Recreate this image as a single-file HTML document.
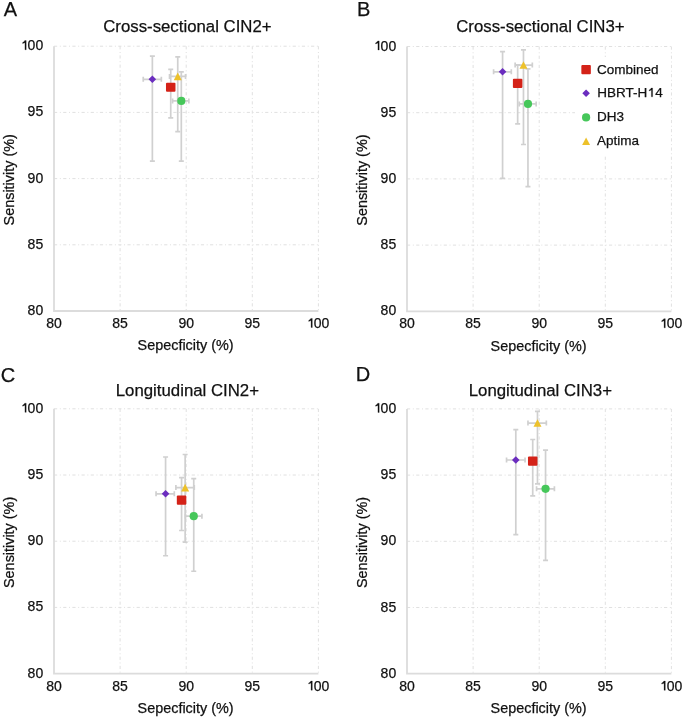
<!DOCTYPE html>
<html><head><meta charset="utf-8"><style>
html,body{margin:0;padding:0;background:#fff;width:685px;height:718px;overflow:hidden}
svg{display:block;will-change:transform;transform-origin:0 0;transform:scale(1.0)}
text{font-family:"Liberation Sans", sans-serif;fill:#111;stroke:#111;stroke-width:0.25}
.tk{font-size:14px}
.at{font-size:14.4px}
.ti{font-size:16.8px}
.pl{font-size:20px}
.lg{font-size:13.5px}
.one{fill:#111;stroke:#111;stroke-width:0.25}
.g{stroke:#e0e0e0;stroke-width:1;stroke-dasharray:3.2 2.6 1 2.38;fill:none}
.ax{stroke:#dcdcdc;stroke-width:1.8;fill:none}
.e{stroke:#d0d0d0;stroke-width:1.7;fill:none}
</style></head><body>
<svg width="685" height="718" viewBox="0 0 685 718">
<rect width="685" height="718" fill="#fff"/>
<line x1="120.10" y1="46.20" x2="120.10" y2="311.00" class="g"/>
<line x1="54.00" y1="244.80" x2="318.40" y2="244.80" class="g"/>
<line x1="186.20" y1="46.20" x2="186.20" y2="311.00" class="g"/>
<line x1="54.00" y1="178.60" x2="318.40" y2="178.60" class="g"/>
<line x1="252.30" y1="46.20" x2="252.30" y2="311.00" class="g"/>
<line x1="54.00" y1="112.40" x2="318.40" y2="112.40" class="g"/>
<line x1="318.40" y1="46.20" x2="318.40" y2="311.00" class="g"/>
<line x1="54.00" y1="46.20" x2="318.40" y2="46.20" class="g"/>
<path d="M54.00 46.20V311.00H318.40" class="ax"/>
<text x="43.20" y="315.00" class="tk" text-anchor="end">80</text>
<text x="54.00" y="328.00" class="tk" text-anchor="middle">80</text>
<text x="43.20" y="248.80" class="tk" text-anchor="end">85</text>
<text x="120.10" y="328.00" class="tk" text-anchor="middle">85</text>
<text x="43.20" y="182.60" class="tk" text-anchor="end">90</text>
<text x="186.20" y="328.00" class="tk" text-anchor="middle">90</text>
<text x="43.20" y="116.40" class="tk" text-anchor="end">95</text>
<text x="252.30" y="328.00" class="tk" text-anchor="middle">95</text>
<text x="43.20" y="50.20" class="tk" text-anchor="end">00</text>
<path d="M26.20 49.75L26.20 40.60L24.75 40.60L24.20 41.50L22.60 42.60L22.60 43.60L24.95 42.70L24.95 49.75Z" class="one"/>
<text x="329.30" y="328.00" class="tk" text-anchor="end">00</text>
<path d="M312.30 327.55L312.30 318.40L310.85 318.40L310.30 319.30L308.70 320.40L308.70 321.40L311.05 320.50L311.05 327.55Z" class="one"/>
<text x="185.60" y="350.30" class="at" text-anchor="middle">Sepecficity (%)</text>
<text transform="translate(14.20 179.80) rotate(-90)" class="at" text-anchor="middle">Sensitivity (%)</text>
<text x="187.40" y="31.70" class="ti" text-anchor="middle">Cross-sectional CIN2+</text>
<text x="3.70" y="16.20" class="pl">A</text>
<path d="M152.36 56.13V161.12M149.86 56.13h5M149.86 161.12h5" class="e"/>
<path d="M143.24 79.30H161.35M143.24 76.80v5M161.35 76.80v5" class="e"/>
<path d="M170.73 69.37V117.96M168.23 69.37h5M168.23 117.96h5" class="e"/>
<path d="M177.74 56.79V131.60M175.24 56.79h5M175.24 131.60h5" class="e"/>
<path d="M169.54 76.39H185.54M169.54 73.89v5M185.54 73.89v5" class="e"/>
<path d="M181.31 71.89V161.12M178.81 71.89h5M178.81 161.12h5" class="e"/>
<path d="M172.58 100.88H188.84M172.58 98.38v5M188.84 98.38v5" class="e"/>
<rect x="165.98" y="82.64" width="9.5" height="9.2" rx="1" fill="#d42218"/>
<path d="M152.36 75.50L156.16 79.30L152.36 83.10L148.56 79.30Z" fill="#6b2dbf"/>
<circle cx="181.31" cy="100.88" r="4.1" fill="#46c75a"/>
<path d="M177.74 72.59L181.74 80.19L173.74 80.19Z" fill="#edc12a"/>
<line x1="473.10" y1="46.50" x2="473.10" y2="311.30" class="g"/>
<line x1="407.00" y1="245.10" x2="671.40" y2="245.10" class="g"/>
<line x1="539.20" y1="46.50" x2="539.20" y2="311.30" class="g"/>
<line x1="407.00" y1="178.90" x2="671.40" y2="178.90" class="g"/>
<line x1="605.30" y1="46.50" x2="605.30" y2="311.30" class="g"/>
<line x1="407.00" y1="112.70" x2="671.40" y2="112.70" class="g"/>
<line x1="671.40" y1="46.50" x2="671.40" y2="311.30" class="g"/>
<line x1="407.00" y1="46.50" x2="671.40" y2="46.50" class="g"/>
<path d="M407.00 46.50V311.30H671.40" class="ax"/>
<text x="396.20" y="315.30" class="tk" text-anchor="end">80</text>
<text x="407.00" y="328.30" class="tk" text-anchor="middle">80</text>
<text x="396.20" y="249.10" class="tk" text-anchor="end">85</text>
<text x="473.10" y="328.30" class="tk" text-anchor="middle">85</text>
<text x="396.20" y="182.90" class="tk" text-anchor="end">90</text>
<text x="539.20" y="328.30" class="tk" text-anchor="middle">90</text>
<text x="396.20" y="116.70" class="tk" text-anchor="end">95</text>
<text x="605.30" y="328.30" class="tk" text-anchor="middle">95</text>
<text x="396.20" y="50.50" class="tk" text-anchor="end">00</text>
<path d="M379.20 50.05L379.20 40.90L377.75 40.90L377.20 41.80L375.60 42.90L375.60 43.90L377.95 43.00L377.95 50.05Z" class="one"/>
<text x="682.30" y="328.30" class="tk" text-anchor="end">00</text>
<path d="M665.30 327.85L665.30 318.70L663.85 318.70L663.30 319.60L661.70 320.70L661.70 321.70L664.05 320.80L664.05 327.85Z" class="one"/>
<text x="538.60" y="350.60" class="at" text-anchor="middle">Sepecficity (%)</text>
<text transform="translate(367.20 180.10) rotate(-90)" class="at" text-anchor="middle">Sensitivity (%)</text>
<text x="540.40" y="31.70" class="ti" text-anchor="middle">Cross-sectional CIN3+</text>
<text x="357.00" y="16.10" class="pl">B</text>
<path d="M502.58 51.53V178.37M500.08 51.53h5M500.08 178.37h5" class="e"/>
<path d="M493.59 71.79H511.31M493.59 69.29v5M511.31 69.29v5" class="e"/>
<path d="M517.65 64.90V123.95M515.15 64.90h5M515.15 123.95h5" class="e"/>
<path d="M523.47 49.81V144.48M520.97 49.81h5M520.97 144.48h5" class="e"/>
<path d="M515.14 65.04H532.33M515.14 62.54v5M532.33 62.54v5" class="e"/>
<path d="M527.96 68.88V186.58M525.46 68.88h5M525.46 186.58h5" class="e"/>
<path d="M519.24 103.96H536.16M519.24 101.46v5M536.16 101.46v5" class="e"/>
<rect x="512.90" y="78.84" width="9.5" height="9.2" rx="1" fill="#d42218"/>
<path d="M502.58 67.99L506.38 71.79L502.58 75.59L498.78 71.79Z" fill="#6b2dbf"/>
<circle cx="527.96" cy="103.96" r="4.1" fill="#46c75a"/>
<path d="M523.47 61.24L527.47 68.84L519.47 68.84Z" fill="#edc12a"/>
<line x1="120.10" y1="408.80" x2="120.10" y2="673.60" class="g"/>
<line x1="54.00" y1="607.40" x2="318.40" y2="607.40" class="g"/>
<line x1="186.20" y1="408.80" x2="186.20" y2="673.60" class="g"/>
<line x1="54.00" y1="541.20" x2="318.40" y2="541.20" class="g"/>
<line x1="252.30" y1="408.80" x2="252.30" y2="673.60" class="g"/>
<line x1="54.00" y1="475.00" x2="318.40" y2="475.00" class="g"/>
<line x1="318.40" y1="408.80" x2="318.40" y2="673.60" class="g"/>
<line x1="54.00" y1="408.80" x2="318.40" y2="408.80" class="g"/>
<path d="M54.00 408.80V673.60H318.40" class="ax"/>
<text x="43.20" y="677.60" class="tk" text-anchor="end">80</text>
<text x="54.00" y="690.60" class="tk" text-anchor="middle">80</text>
<text x="43.20" y="611.40" class="tk" text-anchor="end">85</text>
<text x="120.10" y="690.60" class="tk" text-anchor="middle">85</text>
<text x="43.20" y="545.20" class="tk" text-anchor="end">90</text>
<text x="186.20" y="690.60" class="tk" text-anchor="middle">90</text>
<text x="43.20" y="479.00" class="tk" text-anchor="end">95</text>
<text x="252.30" y="690.60" class="tk" text-anchor="middle">95</text>
<text x="43.20" y="412.80" class="tk" text-anchor="end">00</text>
<path d="M26.20 412.35L26.20 403.20L24.75 403.20L24.20 404.10L22.60 405.20L22.60 406.20L24.95 405.30L24.95 412.35Z" class="one"/>
<text x="329.30" y="690.60" class="tk" text-anchor="end">00</text>
<path d="M312.30 690.15L312.30 681.00L310.85 681.00L310.30 681.90L308.70 683.00L308.70 684.00L311.05 683.10L311.05 690.15Z" class="one"/>
<text x="185.60" y="712.90" class="at" text-anchor="middle">Sepecficity (%)</text>
<text transform="translate(14.20 542.40) rotate(-90)" class="at" text-anchor="middle">Sensitivity (%)</text>
<text x="187.40" y="395.60" class="ti" text-anchor="middle">Longitudinal CIN2+</text>
<text x="0.75" y="381.60" class="pl">C</text>
<path d="M165.58 456.99V555.76M163.08 456.99h5M163.08 555.76h5" class="e"/>
<path d="M156.06 493.80H174.30M156.06 491.30v5M174.30 491.30v5" class="e"/>
<path d="M181.57 477.65V530.48M179.07 477.65h5M179.07 530.48h5" class="e"/>
<path d="M185.14 454.48V542.13M182.64 454.48h5M182.64 542.13h5" class="e"/>
<path d="M175.89 487.58H194.26M175.89 485.08v5M194.26 485.08v5" class="e"/>
<path d="M193.74 478.57V571.25M191.24 478.57h5M191.24 571.25h5" class="e"/>
<path d="M185.54 516.18H201.93M185.54 513.68v5M201.93 513.68v5" class="e"/>
<rect x="176.82" y="495.56" width="9.5" height="9.2" rx="1" fill="#d42218"/>
<path d="M165.58 490.00L169.38 493.80L165.58 497.60L161.78 493.80Z" fill="#6b2dbf"/>
<circle cx="193.74" cy="516.18" r="4.1" fill="#46c75a"/>
<path d="M185.14 483.78L189.14 491.38L181.14 491.38Z" fill="#edc12a"/>
<line x1="473.10" y1="408.90" x2="473.10" y2="673.70" class="g"/>
<line x1="407.00" y1="607.50" x2="671.40" y2="607.50" class="g"/>
<line x1="539.20" y1="408.90" x2="539.20" y2="673.70" class="g"/>
<line x1="407.00" y1="541.30" x2="671.40" y2="541.30" class="g"/>
<line x1="605.30" y1="408.90" x2="605.30" y2="673.70" class="g"/>
<line x1="407.00" y1="475.10" x2="671.40" y2="475.10" class="g"/>
<line x1="671.40" y1="408.90" x2="671.40" y2="673.70" class="g"/>
<line x1="407.00" y1="408.90" x2="671.40" y2="408.90" class="g"/>
<path d="M407.00 408.90V673.70H671.40" class="ax"/>
<text x="396.20" y="677.70" class="tk" text-anchor="end">80</text>
<text x="407.00" y="690.70" class="tk" text-anchor="middle">80</text>
<text x="396.20" y="611.50" class="tk" text-anchor="end">85</text>
<text x="473.10" y="690.70" class="tk" text-anchor="middle">85</text>
<text x="396.20" y="545.30" class="tk" text-anchor="end">90</text>
<text x="539.20" y="690.70" class="tk" text-anchor="middle">90</text>
<text x="396.20" y="479.10" class="tk" text-anchor="end">95</text>
<text x="605.30" y="690.70" class="tk" text-anchor="middle">95</text>
<text x="396.20" y="412.90" class="tk" text-anchor="end">00</text>
<path d="M379.20 412.45L379.20 403.30L377.75 403.30L377.20 404.20L375.60 405.30L375.60 406.30L377.95 405.40L377.95 412.45Z" class="one"/>
<text x="682.30" y="690.70" class="tk" text-anchor="end">00</text>
<path d="M665.30 690.25L665.30 681.10L663.85 681.10L663.30 682.00L661.70 683.10L661.70 684.10L664.05 683.20L664.05 690.25Z" class="one"/>
<text x="538.60" y="713.00" class="at" text-anchor="middle">Sepecficity (%)</text>
<text transform="translate(367.20 542.50) rotate(-90)" class="at" text-anchor="middle">Sensitivity (%)</text>
<text x="540.40" y="395.60" class="ti" text-anchor="middle">Longitudinal CIN3+</text>
<text x="355.70" y="381.30" class="pl">D</text>
<path d="M515.80 429.69V534.55M513.30 429.69h5M513.30 534.55h5" class="e"/>
<path d="M506.55 460.01H525.05M506.55 457.51v5M525.05 457.51v5" class="e"/>
<path d="M532.72 439.48V495.89M530.22 439.48h5M530.22 495.89h5" class="e"/>
<path d="M537.48 411.42V483.97M534.98 411.42h5M534.98 483.97h5" class="e"/>
<path d="M527.96 423.07H546.34M527.96 420.57v5M546.34 420.57v5" class="e"/>
<path d="M545.55 450.21V560.37M543.05 450.21h5M543.05 560.37h5" class="e"/>
<path d="M536.56 488.87H554.40M536.56 486.37v5M554.40 486.37v5" class="e"/>
<rect x="527.97" y="456.60" width="9.5" height="9.2" rx="1" fill="#d42218"/>
<path d="M515.80 456.21L519.60 460.01L515.80 463.81L512.00 460.01Z" fill="#6b2dbf"/>
<circle cx="545.55" cy="488.87" r="4.1" fill="#46c75a"/>
<path d="M537.48 419.27L541.48 426.87L533.48 426.87Z" fill="#edc12a"/>
<rect x="575" y="57" width="95.6" height="99" fill="#fff"/>
<rect x="581.35" y="65.00" width="9.5" height="9.2" rx="1" fill="#d42218"/>
<text x="597" y="73.60" class="lg">Combined</text>
<path d="M586.10 89.50L589.90 93.30L586.10 97.10L582.30 93.30Z" fill="#6b2dbf"/>
<text x="597.3" y="97.30" class="lg">HBRT-H</text>
<path d="M652.60 96.87L652.60 88.04L651.20 88.04L650.67 88.91L649.13 89.97L649.13 90.94L651.39 90.07L651.39 96.87Z" class="one"/>
<text x="662.7" y="97.30" class="lg" text-anchor="end">4</text>
<circle cx="586.10" cy="117.40" r="4.1" fill="#46c75a"/>
<text x="597" y="121.40" class="lg">DH3</text>
<path d="M586.10 137.40L590.10 145.00L582.10 145.00Z" fill="#edc12a"/>
<text x="597" y="145.20" class="lg">Aptima</text>
</svg>
</body></html>
